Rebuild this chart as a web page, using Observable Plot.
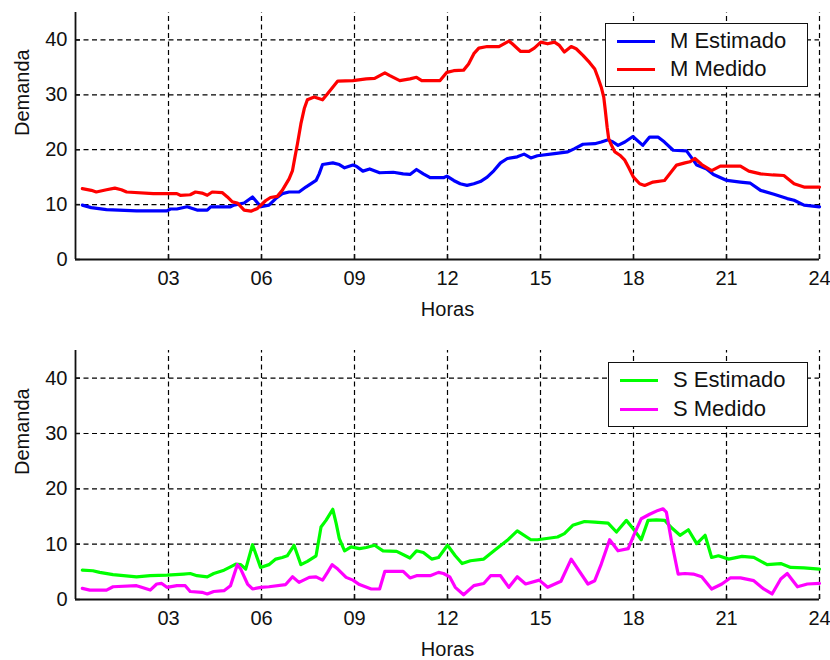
<!DOCTYPE html>
<html>
<head>
<meta charset="utf-8">
<script src="https://cdn.jsdelivr.net/npm/d3@7"></script>
<script src="https://cdn.jsdelivr.net/npm/@observablehq/plot@0.6"></script>
<style>
  html, body { margin: 0; padding: 0; background: #fff; }
  #wrap { position: relative; width: 830px; height: 660px; font-family: "Liberation Sans", Arial, sans-serif; }
  #wrap svg { display: block; }
  .leg { position: absolute; background: #fff; border: 1.5px solid #111; box-sizing: border-box; }
  .leg .row { position: absolute; left: 0; height: 24px; display: flex; align-items: center; }
  .leg .sw { width: 38px; height: 3px; margin-left: 11px; }
  .leg .lb { margin-left: 15px; font-size: 22px; color: #111; white-space: nowrap; }
</style>
</head>
<body>
<div id="wrap"></div>
<script>
// Hour ticks and their labels
const horasTicks = [3, 6, 9, 12, 15, 18, 21, 24];
const horasEtiquetas = ["03", "06", "09", "12", "15", "18", "21", "24"];
const demandaTicks = [0, 10, 20, 30, 40];

// M Estimado (blue)
const mEstHoras = [0.22,0.51,1.0,1.97,2.95,3.06,3.27,3.6,3.92,4.25,4.36,5.0,5.11,5.44,5.71,5.98,6.24,6.46,6.67,6.89,7.21,7.43,7.76,7.86,7.97,8.3,8.51,8.68,8.95,9.06,9.27,9.49,9.81,10.25,10.57,10.79,11.0,11.22,11.44,11.87,11.98,12.2,12.41,12.63,12.85,13.06,13.28,13.5,13.71,13.93,14.25,14.47,14.69,14.9,15.45,15.88,16.1,16.37,16.75,16.96,17.18,17.34,17.5,17.72,17.98,18.3,18.52,18.79,19.0,19.28,19.71,19.93,20.04,20.36,20.58,21.01,21.45,21.77,22.1,22.53,22.96,23.18,23.5,24.0];
const mEstValores = [9.9,9.45,9.1,8.85,8.85,9.2,9.2,9.6,9.0,9.0,9.6,9.6,9.9,10.3,11.4,9.6,9.9,11.1,12.0,12.3,12.3,13.2,14.4,15.6,17.3,17.6,17.3,16.7,17.2,17.0,16.1,16.5,15.8,15.9,15.6,15.5,16.4,15.6,14.9,14.9,15.2,14.4,13.8,13.5,13.8,14.2,15.0,16.2,17.6,18.4,18.7,19.2,18.5,18.9,19.3,19.6,20.2,21.0,21.1,21.4,21.8,21.4,20.8,21.4,22.4,20.8,22.3,22.3,21.4,19.9,19.8,18.1,17.2,16.5,15.5,14.4,14.1,13.9,12.6,11.9,11.1,10.8,9.9,9.6];

// M Medido (red)
const mMedHoras = [0.22,0.51,0.67,1.0,1.27,1.48,1.65,2.51,3.27,3.38,3.7,3.87,4.08,4.25,4.41,4.73,4.9,5.06,5.22,5.44,5.66,5.87,6.13,6.29,6.51,6.67,6.89,7.0,7.08,7.16,7.27,7.38,7.48,7.7,7.97,8.13,8.46,8.95,9.38,9.65,9.98,10.14,10.46,10.79,11.0,11.17,11.76,11.98,12.2,12.52,12.68,12.85,13.01,13.28,13.66,13.82,13.98,14.09,14.36,14.63,14.8,15.01,15.23,15.45,15.61,15.77,15.99,16.15,16.37,16.58,16.75,16.85,16.96,17.04,17.09,17.15,17.2,17.29,17.4,17.56,17.72,17.84,18.0,18.2,18.36,18.63,19.0,19.17,19.39,19.66,19.82,19.98,20.2,20.52,20.8,21.45,21.72,22.1,22.5,22.85,23.18,23.5,24.0];
const mMedValores = [12.9,12.6,12.3,12.7,13.0,12.7,12.3,12.0,12.0,11.7,11.8,12.3,12.1,11.7,12.3,12.2,11.4,10.5,10.3,9.0,8.8,9.3,10.7,11.3,11.5,12.6,14.7,16.2,18.7,21.1,24.7,27.5,29.1,29.6,29.1,30.2,32.5,32.6,32.9,33.0,34.0,33.5,32.6,32.9,33.2,32.6,32.6,34.1,34.4,34.5,35.6,37.5,38.5,38.8,38.8,39.3,39.8,39.3,37.9,37.9,38.5,39.6,39.3,39.6,39.0,37.8,38.8,38.4,37.2,35.9,34.7,33.2,31.4,29.6,27.2,24.1,22.0,20.8,19.6,19.0,18.1,16.8,15.0,13.8,13.5,14.1,14.4,15.6,17.2,17.6,17.8,18.4,17.3,16.2,17.0,17.0,16.1,15.6,15.4,15.3,13.8,13.2,13.2];

// S Estimado (green)
const sEstHoras = [0.22,0.56,0.78,1.21,1.97,2.41,2.95,3.49,3.7,3.92,4.25,4.46,4.79,5.0,5.17,5.33,5.49,5.71,5.97,6.24,6.46,6.67,6.83,7.05,7.27,7.48,7.76,7.92,8.08,8.3,8.41,8.51,8.68,8.89,9.16,9.38,9.65,9.92,10.36,10.79,11.0,11.22,11.49,11.71,12.0,12.25,12.47,12.74,13.17,13.5,13.93,14.25,14.69,14.9,15.55,15.77,16.04,16.42,16.75,17.18,17.45,17.77,18.03,18.25,18.47,18.74,19.01,19.22,19.5,19.77,20.04,20.31,20.52,20.74,21.07,21.5,21.88,22.31,22.75,23.07,23.5,24.0];
const sEstValores = [5.3,5.2,4.9,4.5,4.1,4.3,4.4,4.6,4.7,4.3,4.1,4.7,5.3,5.9,6.4,6.3,5.5,9.9,5.8,6.3,7.3,7.6,7.9,9.8,6.3,6.9,7.9,13.1,14.3,16.3,13.7,11.0,8.8,9.5,9.2,9.4,9.8,8.8,8.7,7.5,8.8,8.5,7.3,7.6,9.8,7.9,6.5,7.0,7.3,8.8,10.7,12.4,10.8,10.8,11.3,11.9,13.4,14.1,14.0,13.8,12.2,14.3,12.5,10.8,14.3,14.4,14.3,13.0,11.6,12.6,10.1,11.6,7.6,7.9,7.3,7.8,7.6,6.3,6.5,5.8,5.7,5.5];

// S Medido (magenta)
const sMedHoras = [0.22,0.46,1.0,1.21,1.97,2.13,2.41,2.62,2.78,2.95,3.27,3.54,3.7,4.08,4.25,4.46,4.79,5.0,5.22,5.33,5.55,5.71,5.98,6.24,6.78,7.0,7.21,7.54,7.76,7.97,8.13,8.28,8.46,8.73,8.95,9.16,9.54,9.81,9.98,10.57,10.79,11.0,11.44,11.71,11.87,12.07,12.25,12.52,12.85,13.17,13.39,13.71,13.98,14.25,14.52,14.96,15.23,15.66,15.99,16.53,16.75,16.96,17.23,17.5,17.83,18.0,18.25,18.52,18.79,18.95,19.06,19.22,19.44,19.66,19.93,20.2,20.52,20.85,21.12,21.45,21.88,22.2,22.47,22.75,22.96,23.29,23.61,24.0];
const sMedValores = [2.0,1.7,1.7,2.3,2.5,2.2,1.7,2.8,2.9,2.2,2.5,2.5,1.45,1.3,1.0,1.45,1.6,2.5,6.3,5.5,2.8,1.9,2.2,2.3,2.7,4.1,3.1,4.0,4.1,3.5,4.9,6.3,5.5,4.0,3.5,2.7,1.9,1.9,5.1,5.1,3.9,4.3,4.3,4.9,4.7,4.1,2.2,0.85,2.5,2.9,4.3,4.3,2.2,4.1,2.8,3.5,2.2,3.3,7.3,2.8,3.4,6.4,10.8,8.8,9.2,11.5,14.6,15.4,16.1,16.4,15.8,10.7,4.6,4.7,4.6,4.1,1.9,2.8,3.9,3.9,3.4,1.9,1.0,3.7,4.7,2.3,2.8,2.9];

const serie = (horas, valores) => horas.map((h, i) => ({h, v: valores[i]}));

function panel({series, marginTop, marginBottom}) {
  const ink = "#111";
  return Plot.plot({
    width: 830,
    height: 330,
    marginLeft: 75,
    marginRight: 11,
    marginTop,
    marginBottom,
    style: {fontFamily: "'Liberation Sans', Arial, sans-serif", fontSize: "20px", color: ink, background: "#fff"},
    x: {domain: [0, 24]},
    y: {domain: [0, 45]},
    marks: [
      // dashed grid
      Plot.ruleY(demandaTicks.filter(d => d > 0), {y: d => d, stroke: "#000", strokeWidth: 1.2, strokeDasharray: "5,3.5"}),
      Plot.ruleX(horasTicks, {x: d => d, y1: 0, y2: 45, stroke: "#000", strokeWidth: 1.2, strokeDasharray: "5,3.5"}),
      // inward tick marks
      Plot.ruleX(horasTicks, {x: d => d, y1: 0, y2: 0.9, stroke: ink, strokeWidth: 1.5}),
      Plot.ruleY(demandaTicks, {y: d => d, x1: 0, x2: 0.16, stroke: ink, strokeWidth: 1.5}),
      // axis lines
      Plot.ruleX([0], {x: d => d, y1: 0, y2: 45, stroke: ink, strokeWidth: 1.8}),
      Plot.ruleY([0], {y: d => d, x1: 0, x2: 24, stroke: ink, strokeWidth: 1.8}),
      Plot.axisX({ticks: horasTicks, tickFormat: d => horasEtiquetas[horasTicks.indexOf(d)], tickSize: 0, tickPadding: 11, label: null, fontSize: 20}),
      Plot.axisY({ticks: demandaTicks, tickSize: 0, tickPadding: 8, label: null, fontSize: 20}),
      ...series.map(s => Plot.line(s.data, {x: "h", y: "v", stroke: s.color, strokeWidth: 3.2})),
      Plot.text(["Horas"], {text: d => d, frameAnchor: "bottom", dy: 42, lineAnchor: "top", fontSize: 20, fill: ink}),
      Plot.text(["Demanda"], {text: d => d, frameAnchor: "left", dx: -53, rotate: -90, fontSize: 20, fill: ink})
    ]
  });
}

function legend({left, top, width, height, rows, rowTops}) {
  const box = document.createElement("div");
  box.className = "leg";
  Object.assign(box.style, {left: left + "px", top: top + "px", width: width + "px", height: height + "px"});
  rows.forEach((r, i) => {
    const row = document.createElement("div");
    row.className = "row";
    row.style.top = rowTops[i] + "px";
    const sw = document.createElement("div");
    sw.className = "sw";
    sw.style.background = r.color;
    const lb = document.createElement("div");
    lb.className = "lb";
    lb.textContent = r.label;
    row.append(sw, lb);
    box.append(row);
  });
  return box;
}

const wrap = document.getElementById("wrap");

const mSeries = [
  {label: "M Estimado", color: "#0000ff", data: serie(mEstHoras, mEstValores)},
  {label: "M Medido", color: "#ff0000", data: serie(mMedHoras, mMedValores)}
];
const sSeries = [
  {label: "S Estimado", color: "#00ff00", data: serie(sEstHoras, sEstValores)},
  {label: "S Medido", color: "#ff00ff", data: serie(sMedHoras, sMedValores)}
];

wrap.append(panel({series: mSeries, marginTop: 12, marginBottom: 71}));
wrap.append(panel({series: sSeries, marginTop: 20, marginBottom: 61}));

wrap.append(legend({left: 605, top: 23, width: 203, height: 64, rows: mSeries, rowTops: [5, 33]}));
wrap.append(legend({left: 608, top: 362, width: 200, height: 65, rows: sSeries, rowTops: [5, 34]}));
</script>
</body>
</html>
